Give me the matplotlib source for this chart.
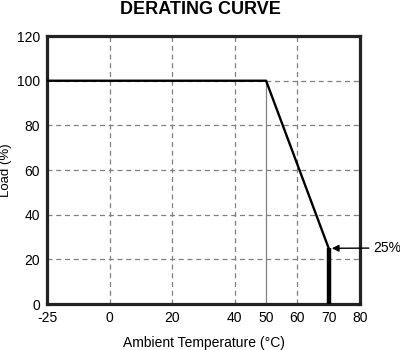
import numpy as np
import matplotlib
matplotlib.use("Agg")
import matplotlib.pyplot as plt

plt.rcParams['font.family'] = ['Liberation Sans', 'DejaVu Sans']

# curve data
temp = [-25, 50, 70]
load = [100, 100, 25]
cutoff_temp = 70
cutoff_load = 25

xticks = [-25, 0, 20, 40, 50, 60, 70, 80]
yticks = [0, 20, 40, 60, 80, 100, 120]
dashed_x = [0, 20, 40, 60]
dashed_y = [20, 40, 60, 80, 100]


# the -25..0 part of the axis is squeezed on the original chart
def fwd(t):
    t = np.asarray(t, dtype=float)
    return np.where(t < 0, t * 0.8, t)


def inv(u):
    u = np.asarray(u, dtype=float)
    return np.where(u < 0, u / 0.8, u)


fig = plt.figure(figsize=(4, 3.5), dpi=100)
ax = fig.add_axes([0.1175, 0.131, 0.7825, 0.766])
ax.set_xscale('function', functions=(fwd, inv))
ax.set_xlim(-25, 80)
ax.set_ylim(0, 120)

for xv in dashed_x:
    ax.axvline(xv, color='#808080', lw=0.9, ls=(0, (4, 3)), zorder=1)
for yv in dashed_y:
    ax.axhline(yv, color='#808080', lw=0.9, ls=(0, (4, 3)), zorder=1)
# thin solid drop line from the knee of the curve
ax.plot([temp[1], temp[1]], [0, load[1]], color='#808080', lw=0.9, zorder=2)

ax.plot(temp, load, color='black', lw=1.7, zorder=3)
ax.plot([cutoff_temp, cutoff_temp], [0, cutoff_load], color='black', lw=3.2,
        solid_capstyle='butt', zorder=3)

ax.annotate('25%', xy=(cutoff_temp + 1, cutoff_load), xytext=(373, 350 - 248),
            textcoords='figure pixels', fontsize=10, va='center', ha='left',
            arrowprops=dict(arrowstyle='-|>', color='black', lw=1,
                            mutation_scale=10, shrinkA=1, shrinkB=0),
            annotation_clip=False)

ax.set_xticks(xticks)
ax.set_xticklabels([str(t) for t in xticks])
ax.set_yticks(yticks)
ax.tick_params(length=0, labelsize=10, pad=5)
ax.minorticks_off()

for s in ax.spines.values():
    s.set_linewidth(2.3)
    s.set_color('#222222')

ax.set_xlabel('Ambient Temperature (°C)', fontsize=10, labelpad=8)
ax.set_ylabel('Load (%)', fontsize=9.5)
ax.yaxis.set_label_coords(-0.112, 0.5)
fig.text(0.5, 0.972, 'DERATING CURVE', ha='center', va='center',
         fontsize=13, fontweight='bold')

fig.savefig('out.png', dpi=100)
